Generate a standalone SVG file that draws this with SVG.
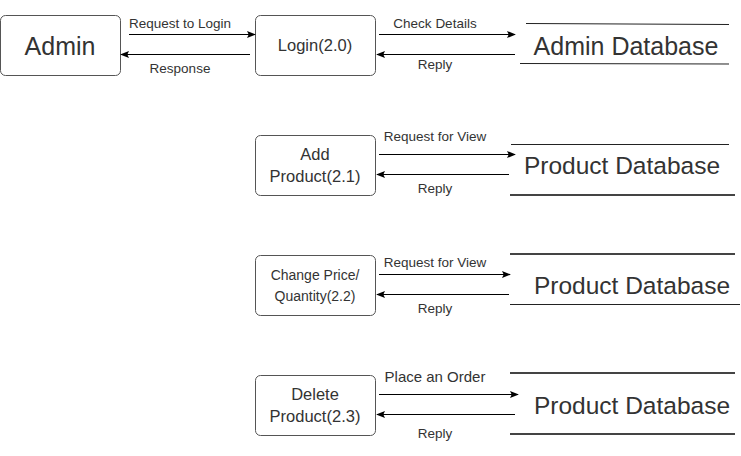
<svg xmlns="http://www.w3.org/2000/svg" width="741" height="456" viewBox="0 0 741 456">
<style>
.box{fill:#fff;stroke:#555;stroke-width:1}
.t{font-family:"Liberation Sans",Arial,sans-serif;fill:#333;text-anchor:middle}
.lbl{font-size:13.5px}
.lbl2{font-size:15px}
.big{font-size:25px}
.pd{font-size:24.5px}
.mid{font-size:16.5px}
.sm{font-size:14px}
.ds{stroke:#222;stroke-width:1}
.ds2{stroke:#444;stroke-width:2}
.c{stroke:#000;stroke-width:1;fill:none;marker-end:url(#ah)}
</style>
<defs>
<marker id="ah" viewBox="0 0 10 10" refX="9" refY="5" markerWidth="9" markerHeight="9" orient="auto" markerUnits="userSpaceOnUse">
<path d="M0,1 L10,5 L0,9 L2,5 Z" fill="#000"/>
</marker>
</defs>
<rect width="741" height="456" fill="#fff"/>
<g id="admin"><rect class="box" x="0.5" y="15.5" width="120" height="60" rx="5"/><text class="t big" x="60" y="55">Admin</text></g>
<g id="login"><rect class="box" x="255.5" y="15.5" width="120" height="60" rx="5"/><text class="t mid" x="315" y="51">Login(2.0)</text></g>
<g id="admindb"><line class="ds" x1="526" y1="23.5" x2="729" y2="24.5"/><line class="ds" x1="520" y1="63.5" x2="729" y2="64"/><text class="t big" x="626" y="55">Admin Database</text></g>
<g id="add"><rect class="box" x="255.5" y="135.5" width="120" height="60" rx="5"/><text class="t mid" x="315" y="160">Add</text><text class="t mid" x="315" y="182">Product(2.1)</text></g>
<g id="pdb1"><line class="ds" x1="511" y1="144.5" x2="729" y2="144.5"/><line class="ds2" x1="510" y1="195" x2="735" y2="195"/><text class="t pd" x="622" y="174">Product Database</text></g>
<g id="change"><rect class="box" x="255.5" y="255.5" width="120" height="60" rx="5"/><text class="t sm" x="315" y="280">Change Price/</text><text class="t sm" x="315" y="301">Quantity(2.2)</text></g>
<g id="pdb2"><line class="ds2" x1="510" y1="254" x2="735" y2="254"/><line class="ds" x1="510" y1="304.5" x2="740" y2="304.5"/><text class="t pd" x="632" y="294">Product Database</text></g>
<g id="delete"><rect class="box" x="255.5" y="375.5" width="120" height="60" rx="5"/><text class="t mid" x="315" y="400">Delete</text><text class="t mid" x="315" y="422">Product(2.3)</text></g>
<g id="pdb3"><line class="ds2" x1="510" y1="373" x2="735" y2="373"/><line class="ds2" x1="510" y1="434" x2="735" y2="434"/><text class="t pd" x="632" y="414">Product Database</text></g>
<g id="connectors">
<line class="c" x1="129" y1="34.5" x2="255" y2="34.5"/>
<line class="c" x1="250" y1="54.5" x2="121" y2="54.5"/>
<line class="c" x1="379" y1="34.5" x2="515" y2="34.5"/>
<line class="c" x1="515" y1="54.5" x2="377" y2="54.5"/>
<line class="c" x1="379" y1="154.5" x2="515" y2="154.5"/>
<line class="c" x1="509" y1="174.5" x2="377" y2="174.5"/>
<line class="c" x1="379" y1="274.5" x2="510" y2="274.5"/>
<line class="c" x1="509" y1="294.5" x2="377" y2="294.5"/>
<line class="c" x1="379" y1="394.5" x2="518" y2="394.5"/>
<line class="c" x1="515" y1="414.5" x2="377" y2="414.5"/>
<text class="t lbl" x="180" y="28">Request to Login</text>
<text class="t lbl" x="180" y="73">Response</text>
<text class="t lbl" x="435" y="28">Check Details</text>
<text class="t lbl" x="435" y="69">Reply</text>
<text class="t lbl" x="435" y="141">Request for View</text>
<text class="t lbl" x="435" y="193">Reply</text>
<text class="t lbl" x="435" y="267">Request for View</text>
<text class="t lbl" x="435" y="313">Reply</text>
<text class="t lbl2" x="435" y="382">Place an Order</text>
<text class="t lbl" x="435" y="438">Reply</text>
</g>
</svg>
